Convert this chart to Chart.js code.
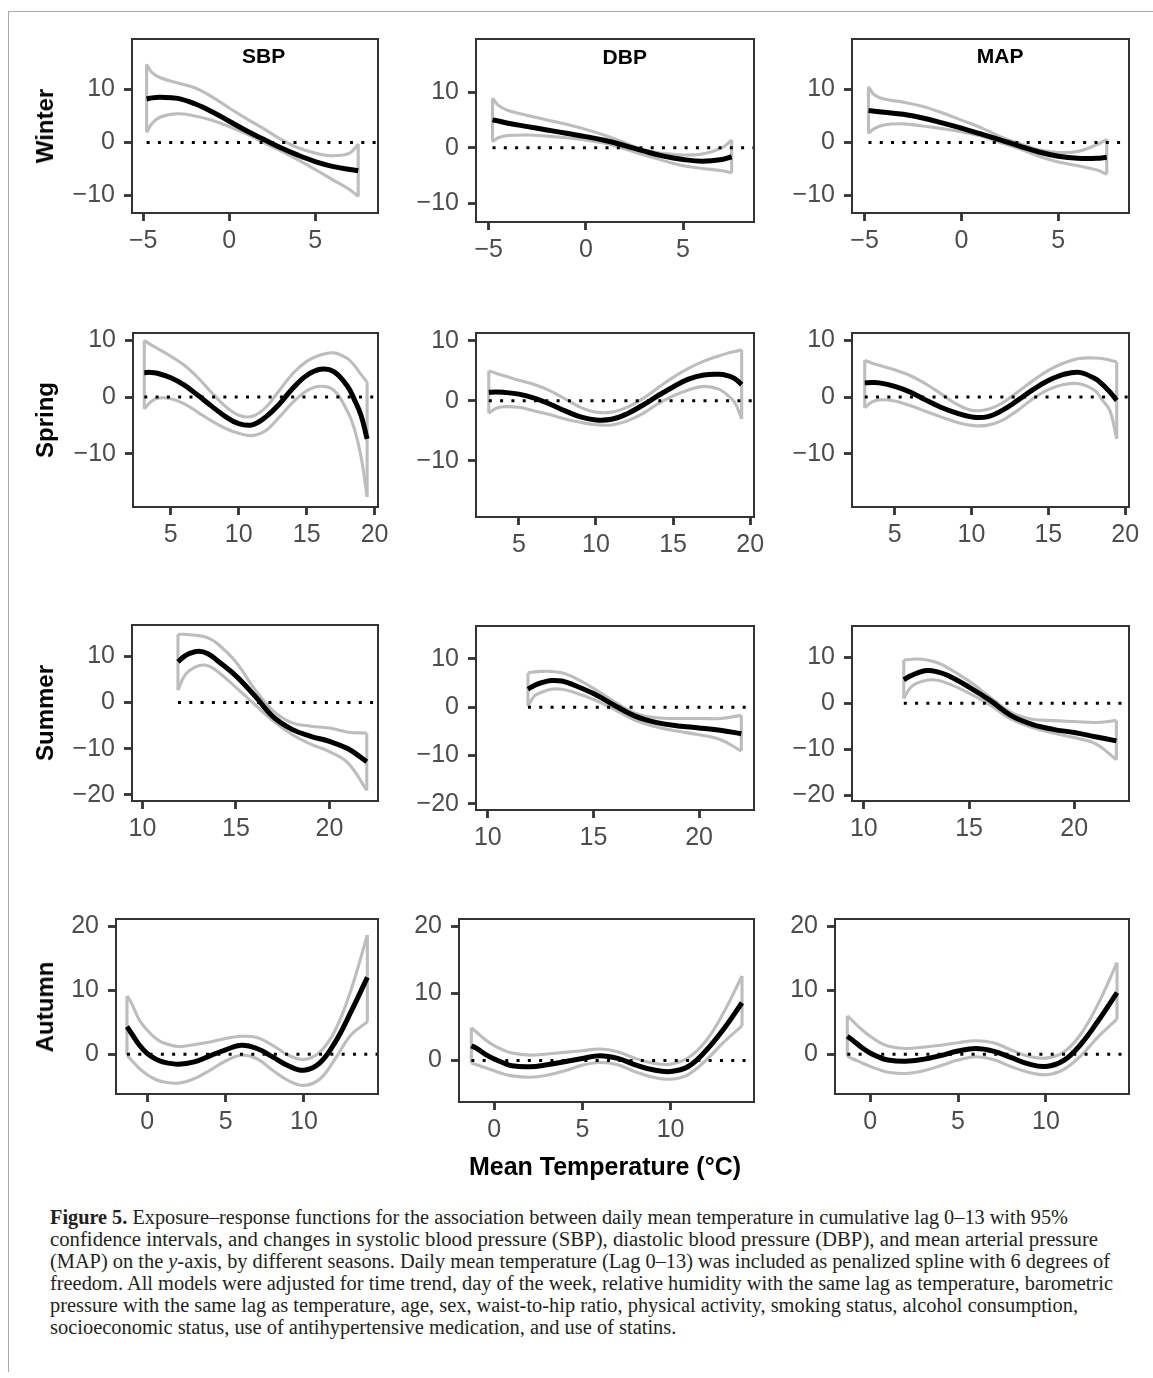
<!DOCTYPE html>
<html><head><meta charset="utf-8">
<script src="https://cdn.jsdelivr.net/npm/chart.js@4.4.1/dist/chart.umd.min.js"></script>
<style>
html,body{margin:0;padding:0;background:#fff;}
body{width:1153px;height:1378px;position:relative;overflow:hidden;font-family:'Liberation Sans',Arial,sans-serif;}
.cv{position:absolute;}
.rowlab{position:absolute;font-weight:bold;font-size:24px;color:#000;white-space:nowrap;transform:translate(-50%,-50%) rotate(-90deg);}
.xtitle{position:absolute;font-weight:bold;font-size:25px;color:#000;white-space:nowrap;transform:translate(-50%,-50%);}
.cap{position:absolute;left:50px;font-family:'Liberation Serif','Times New Roman',serif;font-size:20px;line-height:22px;color:#231f20;white-space:nowrap;transform-origin:0 50%;}
.frame{position:absolute;background:#a8a8a8;}
</style>
</head><body>
<div class="frame" style="left:8px;top:11px;width:1145px;height:1px;"></div>
<div class="frame" style="left:8px;top:11px;width:1px;height:1361px;"></div>
<script>
// ---------------- DATA ----------------
const measures = ['SBP', 'DBP', 'MAP'];
const seasonNames = ['Winter', 'Spring', 'Summer', 'Autumn'];
const xAxisTitle = 'Mean Temperature (°C)';

// Winter
const winterX = [-4.8, -4.5, -4, -3, -2, -1, 0, 1, 2, 3, 4, 5, 6, 7, 7.5];
const winterXTicks = [-5, 0, 5];
const winterYTicks = [-10, 0, 10];
const winterSBPMean  = [8.2, 8.4, 8.5, 8.3, 7.3, 5.8, 4.0, 2.2, 0.6, -1.0, -2.4, -3.6, -4.5, -5.1, -5.3];
const winterSBPUpper = [14.7, 13.2, 12.2, 11.2, 10.3, 8.6, 6.5, 4.5, 2.6, 0.6, -1.0, -2.0, -2.5, -2.0, -0.3];
const winterSBPLower = [1.9, 3.5, 4.8, 5.4, 5.0, 4.2, 3.0, 1.6, 0.0, -1.6, -3.3, -5.1, -7.0, -8.9, -10.2];
const winterDBPMean  = [5.0, 4.8, 4.4, 3.8, 3.2, 2.6, 2.0, 1.3, 0.4, -0.6, -1.5, -2.1, -2.4, -2.1, -1.6];
const winterDBPUpper = [8.9, 7.6, 6.7, 5.8, 5.0, 4.2, 3.3, 2.2, 0.9, -0.4, -1.0, -1.3, -1.1, 0.0, 1.4];
const winterDBPLower = [1.1, 1.8, 2.2, 2.3, 2.1, 1.8, 1.4, 0.8, -0.2, -1.3, -2.3, -3.2, -3.7, -4.1, -4.5];
const winterMAPMean  = [6.0, 5.9, 5.7, 5.3, 4.6, 3.7, 2.7, 1.6, 0.5, -0.7, -1.8, -2.6, -3.0, -3.0, -2.8];
const winterMAPUpper = [10.5, 9.0, 8.2, 7.6, 6.8, 5.6, 4.2, 2.8, 1.1, -0.2, -1.4, -1.9, -1.7, -0.4, 0.6];
const winterMAPLower = [1.7, 2.6, 3.3, 3.5, 3.1, 2.6, 2.0, 1.2, 0.0, -1.2, -2.6, -3.7, -4.4, -5.2, -6.0];

// Spring
const springX = [3.05, 3.5, 4, 5, 6, 7, 8, 9, 10, 11, 12, 13, 14, 15, 16, 17, 18, 18.5, 19, 19.45];
const springXTicks = [5, 10, 15, 20];
const springYTicks = [-10, 0, 10];
const springSBPMean  = [4.3, 4.35, 4.2, 3.4, 2.1, 0.3, -1.6, -3.4, -4.7, -4.9, -3.5, -1.2, 1.6, 3.8, 4.9, 4.5, 1.9, -0.4, -3.2, -7.4];
const springSBPUpper = [10.0, 9.3, 8.6, 7.2, 5.6, 3.4, 0.8, -1.6, -3.2, -3.4, -1.8, 1.2, 4.2, 6.3, 7.4, 7.8, 6.8, 5.6, 4.0, 2.6];
const springSBPLower = [-2.1, -0.9, -0.2, -0.3, -1.2, -2.7, -4.2, -5.5, -6.4, -6.8, -5.9, -3.5, -0.9, 1.1, 1.9, 1.2, -2.5, -5.5, -10.5, -17.6];
const springDBPMean  = [1.4, 1.45, 1.4, 1.1, 0.45, -0.55, -1.7, -2.7, -3.2, -3.1, -2.2, -0.8, 0.8, 2.3, 3.6, 4.3, 4.4, 4.2, 3.7, 2.7];
const springDBPUpper = [5.0, 4.6, 4.2, 3.4, 2.7, 1.7, 0.3, -1.1, -1.9, -1.9, -1.1, 0.3, 2.1, 3.9, 5.4, 6.6, 7.5, 7.9, 8.2, 8.5];
const springDBPLower = [-2.1, -1.3, -1.0, -1.1, -1.7, -2.3, -3.05, -3.6, -4.0, -4.05, -3.4, -2.2, -0.55, 0.8, 1.8, 2.4, 1.9, 1.0, -0.3, -3.05];
const springMAPMean  = [2.5, 2.55, 2.5, 1.9, 0.9, -0.5, -1.8, -2.8, -3.5, -3.5, -2.35, -0.6, 1.3, 2.9, 4.0, 4.35, 3.3, 2.3, 0.9, -0.6];
const springMAPUpper = [6.5, 6.0, 5.6, 4.8, 3.8, 2.35, 0.6, -1.2, -2.35, -2.2, -1.05, 0.9, 2.9, 4.7, 6.0, 6.8, 6.9, 6.8, 6.5, 6.2];
const springMAPLower = [-1.9, -0.9, -0.5, -0.7, -1.5, -2.5, -3.5, -4.4, -5.0, -5.0, -4.1, -2.35, -0.3, 1.3, 2.2, 2.35, 1.2, -0.5, -2.35, -7.35];

// Summer
const summerX = [11.9, 12.2, 12.5, 13, 13.5, 14, 15, 16, 17, 18, 19, 20, 21, 22];
const summerXTicks = [10, 15, 20];
const summerYTicks = [-20, -10, 0, 10];
const summerSBPMean  = [8.8, 9.9, 10.6, 11.1, 10.6, 9.1, 5.8, 1.5, -3.1, -5.8, -7.3, -8.4, -10.0, -12.8];
const summerSBPUpper = [14.8, 14.8, 14.7, 14.5, 14.0, 12.8, 8.8, 2.9, -1.8, -4.4, -5.1, -5.5, -6.4, -6.6];
const summerSBPLower = [2.7, 5.5, 6.9, 8.0, 8.0, 6.8, 3.3, -0.4, -4.0, -6.9, -9.0, -10.6, -13.1, -19.0];
const summerDBPMean  = [3.7, 4.5, 5.0, 5.5, 5.4, 4.7, 2.8, 0.35, -1.9, -3.2, -3.9, -4.3, -4.8, -5.5];
const summerDBPUpper = [7.1, 7.3, 7.4, 7.4, 7.1, 6.3, 3.9, 1.1, -1.3, -2.2, -2.35, -2.35, -2.35, -1.7];
const summerDBPLower = [0.2, 2.3, 3.0, 3.7, 3.7, 3.2, 1.6, -0.5, -2.8, -4.1, -5.0, -5.7, -6.7, -9.1];
const summerMAPMean  = [5.1, 5.9, 6.5, 7.1, 6.8, 6.0, 3.5, 0.6, -2.7, -4.6, -5.7, -6.4, -7.3, -8.2];
const summerMAPUpper = [9.4, 9.5, 9.6, 9.4, 8.8, 7.7, 4.8, 1.3, -2.0, -3.5, -3.8, -4.0, -4.2, -3.8];
const summerMAPLower = [1.0, 3.3, 4.3, 5.0, 5.0, 4.3, 2.2, -0.4, -3.5, -5.3, -6.5, -7.5, -8.8, -12.3];

// Autumn
const autumnX = [-1.3, -1, -0.5, 0, 0.5, 1, 2, 3, 4, 5, 6, 7, 8, 9, 10, 11, 12, 13, 14.05];
const autumnXTicks = [0, 5, 10];
const autumnYTicks = [0, 10, 20];
const autumnSBPMean  = [4.3, 3.2, 1.4, 0.1, -0.7, -1.2, -1.55, -1.2, -0.25, 0.7, 1.4, 0.9, -0.4, -1.8, -2.5, -1.4, 1.9, 6.6, 12.0];
const autumnSBPUpper = [9.1, 7.9, 5.3, 3.75, 2.55, 1.8, 1.2, 1.5, 1.9, 2.45, 2.8, 2.6, 1.4, -0.15, -0.8, 0.3, 3.75, 10.0, 18.6];
const autumnSBPLower = [-0.15, -0.95, -2.25, -3.2, -3.9, -4.3, -4.5, -3.8, -2.5, -1.05, -0.15, -0.7, -2.5, -4.1, -4.85, -3.9, -0.7, 3.0, 5.05];
const autumnDBPMean  = [2.2, 1.8, 0.9, 0.2, -0.35, -0.8, -0.95, -0.65, -0.2, 0.3, 0.7, 0.3, -0.65, -1.4, -1.65, -0.9, 1.45, 4.65, 8.6];
const autumnDBPUpper = [4.9, 4.2, 3.1, 2.2, 1.55, 1.1, 0.8, 0.95, 1.2, 1.45, 1.7, 1.3, 0.3, -0.4, -0.55, 0.4, 2.9, 7.1, 12.6];
const autumnDBPLower = [-0.4, -0.65, -1.1, -1.55, -2.0, -2.3, -2.5, -2.2, -1.55, -0.7, -0.3, -0.65, -1.7, -2.5, -2.8, -2.1, 0.0, 2.7, 5.15];
const autumnMAPMean  = [2.8, 2.2, 1.1, 0.2, -0.45, -0.9, -1.1, -0.8, -0.2, 0.5, 0.9, 0.5, -0.5, -1.5, -1.9, -1.0, 1.6, 5.3, 9.6];
const autumnMAPUpper = [6.0, 5.2, 3.9, 2.8, 1.9, 1.3, 0.9, 1.1, 1.4, 1.8, 2.1, 1.8, 0.7, -0.3, -0.6, 0.3, 3.2, 8.0, 14.3];
const autumnMAPLower = [-0.3, -0.7, -1.3, -1.9, -2.4, -2.8, -3.0, -2.6, -1.8, -0.9, -0.4, -0.8, -1.9, -2.8, -3.2, -2.4, -0.2, 2.8, 5.5];

// axis ranges (data units)
const winterXRange = [-5.65, 8.65], winterYRange = [-13.3, 19.5];
const springXRange = [2.22, 20.25], springYRange = [-19.4, 11.3];
const summerXRange = [9.44, 22.6], summerYRange = [-21.3, 16.8];
const autumnXRange = [-2.0, 14.73], autumnYRange = [-6.2, 21.1];

const captionLines = [
  '<b>Figure 5.</b> Exposure–response functions for the association between daily mean temperature in cumulative lag 0–13 with 95%',
  'confidence intervals, and changes in systolic blood pressure (SBP), diastolic blood pressure (DBP), and mean arterial pressure',
  '(MAP) on the <i>y</i>-axis, by different seasons. Daily mean temperature (Lag 0–13) was included as penalized spline with 6 degrees of',
  'freedom. All models were adjusted for time trend, day of the week, relative humidity with the same lag as temperature, barometric',
  'pressure with the same lag as temperature, age, sex, waist-to-hip ratio, physical activity, smoking status, alcohol consumption,',
  'socioeconomic status, use of antihypertensive medication, and use of statins.'
];

// ---------------- LAYOUT ----------------
const BOXES = [
  [[132, 39, 378, 213], [476, 39, 754, 222], [852, 39, 1129, 213]],
  [[133, 333, 378, 507], [476, 333, 754, 517], [852, 333, 1129, 507]],
  [[132, 625, 378, 801], [476, 626, 754, 810], [852, 626, 1129, 801]],
  [[116, 919, 378, 1094], [459, 919, 754, 1102], [835, 919, 1129, 1094]]
];
const TITLE_AT = {x: 2, y: 16};
const ROW_LABEL_X = 45;
const XTITLE_POS = [605, 1166];
const CAP_TOPS = [1206, 1228, 1250, 1272, 1294, 1316];
const CAP_WIDTHS = [1018, 1048, 1060, 1063, 1028, null];
const PADL = 80, PADT = 8, PADR = 24, PADB = 52;
const FONT = "'Liberation Sans', Arial, Helvetica, sans-serif";

const seasons = [
  {x: winterX, xr: winterXRange, yr: winterYRange, xt: winterXTicks, yt: winterYTicks,
   s: [[winterSBPMean, winterSBPUpper, winterSBPLower], [winterDBPMean, winterDBPUpper, winterDBPLower], [winterMAPMean, winterMAPUpper, winterMAPLower]]},
  {x: springX, xr: springXRange, yr: springYRange, xt: springXTicks, yt: springYTicks,
   s: [[springSBPMean, springSBPUpper, springSBPLower], [springDBPMean, springDBPUpper, springDBPLower], [springMAPMean, springMAPUpper, springMAPLower]]},
  {x: summerX, xr: summerXRange, yr: summerYRange, xt: summerXTicks, yt: summerYTicks,
   s: [[summerSBPMean, summerSBPUpper, summerSBPLower], [summerDBPMean, summerDBPUpper, summerDBPLower], [summerMAPMean, summerMAPUpper, summerMAPLower]]},
  {x: autumnX, xr: autumnXRange, yr: autumnYRange, xt: autumnXTicks, yt: autumnYTicks,
   s: [[autumnSBPMean, autumnSBPUpper, autumnSBPLower], [autumnDBPMean, autumnDBPUpper, autumnDBPLower], [autumnMAPMean, autumnMAPUpper, autumnMAPLower]]}
];

const fmt = v => (v < 0 ? '\u2212' + Math.abs(v) : String(v));
const pts = (xs, ys) => xs.map((x, i) => ({x: x, y: ys[i]}));

const boxPlugin = {
  id: 'panelBox',
  afterDatasetsDraw(chart, args, opts) {
    const a = chart.chartArea, ctx = chart.ctx;
    ctx.save();
    ctx.strokeStyle = '#333333';
    ctx.lineWidth = 2;
    ctx.strokeRect(a.left, a.top, a.right - a.left, a.bottom - a.top);
    if (opts.title) {
      ctx.fillStyle = '#000';
      ctx.font = 'bold 21px ' + FONT;
      ctx.textAlign = 'center';
      ctx.textBaseline = 'middle';
      ctx.fillText(opts.title, chart.scales.x.getPixelForValue(TITLE_AT.x), chart.scales.y.getPixelForValue(TITLE_AT.y));
    }
    ctx.restore();
  }
};

function axisCommon(ticksArr, isX) {
  return {
    type: 'linear',
    position: isX ? 'bottom' : 'left',
    afterBuildTicks: s => { s.ticks = ticksArr.map(v => ({value: v})); },
    afterFit: s => {
      if (isX) s.height = PADB; else s.width = PADL;
      s.paddingLeft = 0; s.paddingRight = 0; s.paddingTop = 0; s.paddingBottom = 0;
    },
    grid: {display: true, drawOnChartArea: false, drawTicks: true, tickLength: 8, tickWidth: 2.8, tickColor: '#333333', color: '#333333'},
    border: {display: false},
    ticks: {autoSkip: false, maxRotation: 0, minRotation: 0, padding: isX ? 5 : 9, color: '#4d4d4d',
            font: {family: FONT, size: 25}, callback: v => fmt(v)}
  };
}

seasons.forEach((se, r) => {
  se.s.forEach((ser, c) => {
    const b = BOXES[r][c];
    const w = b[2] - b[0], h = b[3] - b[1];
    const cv = document.createElement('canvas');
    cv.className = 'cv';
    const cw = w + PADL + PADR, ch = h + PADT + PADB;
    cv.width = cw; cv.height = ch;
    cv.style.width = cw + 'px'; cv.style.height = ch + 'px';
    cv.style.left = (b[0] - PADL) + 'px';
    cv.style.top = (b[1] - PADT) + 'px';
    document.body.appendChild(cv);
    const xs = se.x, n = xs.length;
    const gray = {borderColor: '#bdbdbd', borderWidth: 3.1, pointRadius: 0, showLine: true, fill: false, order: 3};
    const datasets = [
      {label: 'mean', data: pts(xs, ser[0]), borderColor: '#000000', borderWidth: 5,
        pointRadius: 0, showLine: true, fill: false, tension: 0.4, order: 0},
      {label: 'zero', data: [{x: xs[0], y: 0}, {x: se.xr[1], y: 0}], borderColor: '#000000', borderWidth: 3,
        borderDash: [3, 8.3], pointRadius: 0, showLine: true, fill: false, order: 1},
      Object.assign({label: 'upper', data: pts(xs, ser[1]), tension: 0.4}, gray),
      Object.assign({label: 'lower', data: pts(xs, ser[2]), tension: 0.4}, gray),
      Object.assign({label: 'left', data: [{x: xs[0], y: ser[2][0]}, {x: xs[0], y: ser[1][0]}]}, gray),
      Object.assign({label: 'right', data: [{x: xs[n - 1], y: ser[2][n - 1]}, {x: xs[n - 1], y: ser[1][n - 1]}]}, gray)
    ];
    const xa = axisCommon(se.xt, true); xa.min = se.xr[0]; xa.max = se.xr[1];
    const ya = axisCommon(se.yt, false); ya.min = se.yr[0]; ya.max = se.yr[1];
    new Chart(cv, {
      type: 'scatter',
      data: {datasets: datasets},
      options: {
        responsive: false, animation: false, devicePixelRatio: 1,
        layout: {padding: {left: 0, top: PADT, right: PADR, bottom: 0}},
        plugins: {legend: {display: false}, tooltip: {enabled: false},
                  panelBox: {title: r === 0 ? measures[c] : null}},
        elements: {line: {borderJoinStyle: 'round'}},
        scales: {x: xa, y: ya}
      },
      plugins: [boxPlugin]
    });
  });
  const lab = document.createElement('div');
  lab.className = 'rowlab';
  lab.textContent = seasonNames[r];
  const b0 = BOXES[r][0];
  lab.style.left = ROW_LABEL_X + 'px';
  lab.style.top = ((b0[1] + b0[3]) / 2) + 'px';
  document.body.appendChild(lab);
});

const xt = document.createElement('div');
xt.className = 'xtitle';
xt.textContent = xAxisTitle;
xt.style.left = XTITLE_POS[0] + 'px';
xt.style.top = XTITLE_POS[1] + 'px';
document.body.appendChild(xt);

const capEls = captionLines.map((t, i) => {
  const d = document.createElement('div');
  d.className = 'cap';
  d.innerHTML = t;
  d.style.top = CAP_TOPS[i] + 'px';
  document.body.appendChild(d);
  return d;
});
let sc = [];
capEls.forEach((d, i) => {
  if (CAP_WIDTHS[i]) { const s = CAP_WIDTHS[i] / d.getBoundingClientRect().width; sc.push(s); d.style.transform = 'scaleX(' + s + ')'; }
});
const avg = sc.reduce((a, b) => a + b, 0) / sc.length;
capEls.forEach((d, i) => { if (!CAP_WIDTHS[i]) d.style.transform = 'scaleX(' + avg + ')'; });
</script>
</body></html>
